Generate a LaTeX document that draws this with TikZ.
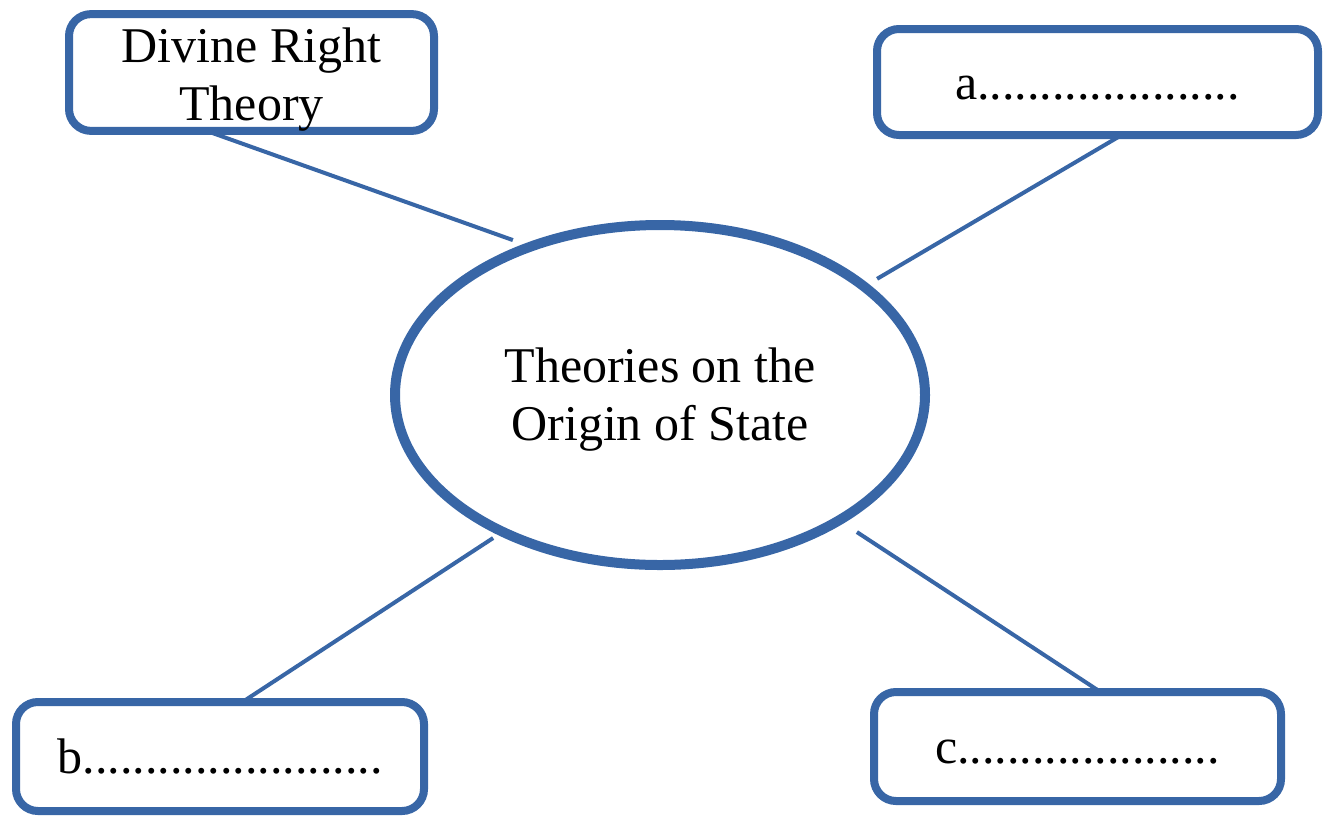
\documentclass[tikz,border=0pt]{standalone}
\usepackage{fontspec}
\setmainfont{Liberation Serif}
\usepackage{tikz}
\usepackage{xcolor}
\usetikzlibrary{shapes.geometric}
\definecolor{mapblue}{RGB}{56,102,166}

\begin{document}
\begin{tikzpicture}[x=0.5pt, y=-0.5pt,
        theory/.style={draw=mapblue, line width=4pt, rounded corners=11pt, fill=white, align=center,
            inner sep=0pt, outer sep=0pt, font=\fontsize{25}{29}\selectfont},
        blank/.style={theory, text height=17pt, text depth=0pt},
        origin/.style={ellipse, draw=mapblue, line width=5pt, align=center, inner sep=0pt, outer sep=0pt,
            minimum width=265pt, minimum height=170pt, font=\fontsize{25}{29}\selectfont},
        link/.style={draw=mapblue, line width=2pt}]
        \useasboundingbox (0,0) rectangle (1325,819);
        \node[origin] (org) at (660,395) {\rule{0pt}{22pt}Theories on the\\ Origin of State};
        \node[theory, minimum width=182.5pt, minimum height=54.5pt] (div) at (251.5,72.5) {\rule{0pt}{24pt}Divine Right\\Theory};
        \node[blank, minimum width=220.5pt, minimum height=53pt] (ta) at (1097.5,82) {a.....................};
        \node[blank, minimum width=204pt, minimum height=54.5pt] (tb) at (220,756.5) {b........................};
        \node[blank, minimum width=203.5pt, minimum height=54.5pt] (tc) at (1077.5,746.5) {c.....................};
        \draw[link, shorten >=9.6pt] (div.south) ++(-45,0) -- (org.131.2);
        \draw[link, shorten >=7.6pt] (ta.south) ++(24.2,0) -- (org.28.3);
        \draw[link, shorten >=5.7pt] (tb.north) ++(22.4,0) -- (org.-139);
        \draw[link, shorten >=10.7pt] (tc.north) ++(23.1,0) -- (org.-35);
    \end{tikzpicture}
\end{document}
